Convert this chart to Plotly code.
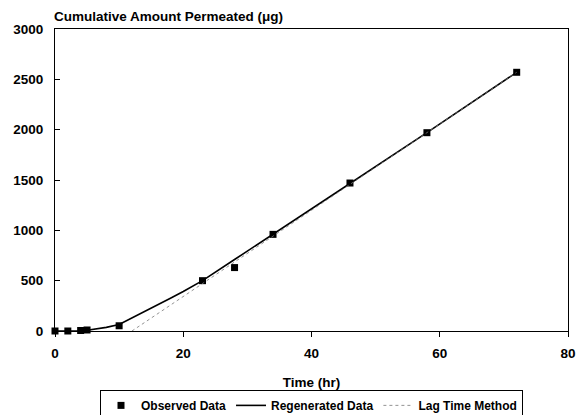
import plotly.graph_objects as go

# Observed permeation data
time_obs = [0, 2, 4, 5, 10, 23, 28, 34, 46, 58, 72]
amount_obs = [0, 0, 5, 10, 52, 500, 630, 960, 1470, 1970, 2570]

# Model-regenerated curve
time_reg = [0, 2, 4, 5, 6, 8, 10, 12, 14, 16, 18, 20, 23, 28, 34, 46, 58, 72]
amount_reg = [0, 0, 2, 8, 15, 36, 64, 128, 193, 260, 326, 393, 500, 710, 960, 1465, 1970, 2570]

# Lag time method (steady-state extrapolation)
time_lag = [12, 72]
amount_lag = [0, 2570]

font_family = "Liberation Sans, Arial, sans-serif"

fig = go.Figure()
fig.add_trace(go.Scatter(
    x=time_obs, y=amount_obs, mode="markers", name="Observed Data",
    marker=dict(symbol="square", size=7, color="black"), cliponaxis=False,
))
fig.add_trace(go.Scatter(
    x=time_reg, y=amount_reg, mode="lines", name="Regenerated Data",
    line=dict(color="black", width=1.6), cliponaxis=False,
))
fig.add_trace(go.Scatter(
    x=time_lag, y=amount_lag, mode="lines", name="Lag Time Method",
    line=dict(color="#777777", width=0.8, dash="dot"),
))

fig.update_layout(
    width=578, height=415,
    margin=dict(l=55, r=10, t=29, b=84, autoexpand=False),
    paper_bgcolor="white", plot_bgcolor="white",
    font=dict(family=font_family, size=13, color="black", weight="bold"),
    showlegend=True,
    legend=dict(
        orientation="h", x=0.5, xanchor="center", y=-0.195, yanchor="top",
        bordercolor="black", borderwidth=1, bgcolor="white",
        font=dict(size=12, weight="bold"),
        itemwidth=30, tracegroupgap=0,
    ),
    annotations=[dict(
        text="Cumulative Amount Permeated (μg)", xref="paper", yref="paper",
        x=0, y=1, xanchor="left", yanchor="bottom", xshift=-3, yshift=3,
        showarrow=False, font=dict(size=13.5, weight="bold"),
    )],
)
fig.update_xaxes(
    range=[0, 80], tickvals=[0, 20, 40, 60, 80],
    showline=True, linecolor="black", linewidth=1, mirror=True,
    ticks="outside", ticklen=5, tickcolor="black",
    showgrid=False, zeroline=False, ticklabelstandoff=5,
    title=dict(text="Time (hr)", standoff=17, font=dict(size=13.5, weight="bold")),
    tickfont=dict(size=13.5, weight="bold"),
)
fig.update_yaxes(
    range=[0, 3000], tickvals=[0, 500, 1000, 1500, 2000, 2500, 3000],
    showline=True, linecolor="black", linewidth=1, mirror=True,
    ticks="inside", ticklen=5, tickcolor="black",
    showgrid=False, zeroline=False, ticklabelstandoff=8,
    tickfont=dict(size=13.5, weight="bold"),
)

fig.write_html("out.html")
